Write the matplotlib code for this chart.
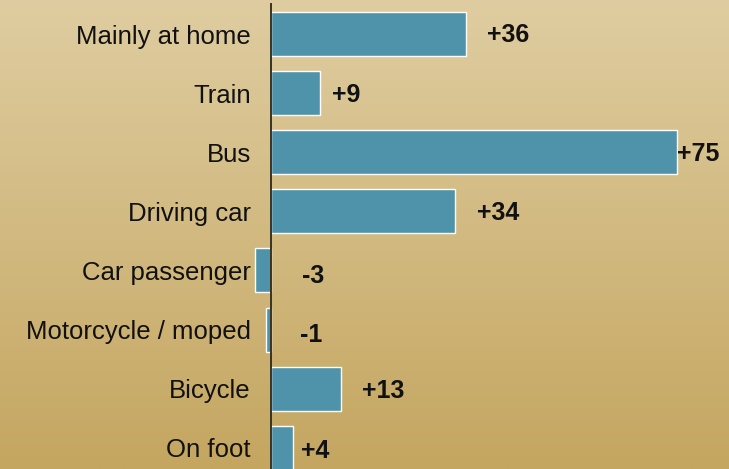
import numpy as np
import matplotlib.pyplot as plt
from matplotlib.colors import LinearSegmentedColormap

plt.rcParams['font.family'] = ['Liberation Sans', 'DejaVu Sans']

# change in trips by mode of travel
modes = ['Mainly at home', 'Train', 'Bus', 'Driving car', 'Car passenger',
         'Motorcycle / moped', 'Bicycle', 'On foot']
change = [36, 9, 75, 34, -3, -1, 13, 4]

# label offsets from bar end, in points (dx, dy)
label_gap = [15, 9, 0, 16, 22, 21, 15, 6]
label_drop = [-1, -1, -1, -1, -4, -4, -2, -2]

fig = plt.figure(figsize=(7.29, 4.69), dpi=100)

# vertical beige-to-tan gradient behind everything
bg = fig.add_axes([0, 0, 1, 1], zorder=0)
grad = np.linspace(0, 1, 256).reshape(-1, 1)
cmap = LinearSegmentedColormap.from_list('tan', ['#dfcda1', '#c4a660'])
bg.imshow(grad, aspect='auto', cmap=cmap, extent=[0, 1, 0, 1], origin='upper')
bg.axis('off')

ax = fig.add_axes([271 / 729, 0, 458 / 729, 465 / 469], zorder=1)
ax.patch.set_alpha(0)

y = np.arange(len(modes))
ax.barh(y, change, height=0.745, color='#4f93ab', edgecolor='white',
        linewidth=1.0, clip_on=False, zorder=2)

ax.set_xlim(0, 458 / 5.41)
ax.set_ylim(len(modes) - 0.64, -0.508)

ax.set_yticks(y)
ax.set_yticklabels(modes, fontsize=18.5, color='#111111', va='center_baseline')
ax.tick_params(axis='y', length=0, pad=14.5)
ax.set_xticks([])

for s in ['top', 'right', 'bottom']:
    ax.spines[s].set_visible(False)
ax.spines['left'].set_color('#3a3222')
ax.spines['left'].set_linewidth(1.4)
ax.spines['left'].set_zorder(3)

# value labels
for yi, v, dx, dy in zip(y, change, label_gap, label_drop):
    txt = f'+{v}' if v > 0 else f'{v}'
    ax.annotate(txt, xy=(max(v, 0), yi), xytext=(dx, dy),
                textcoords='offset points', ha='left', va='center',
                fontsize=18, fontweight='bold', color='#111111',
                annotation_clip=False, zorder=4)

fig.savefig('out.png', dpi=100)
